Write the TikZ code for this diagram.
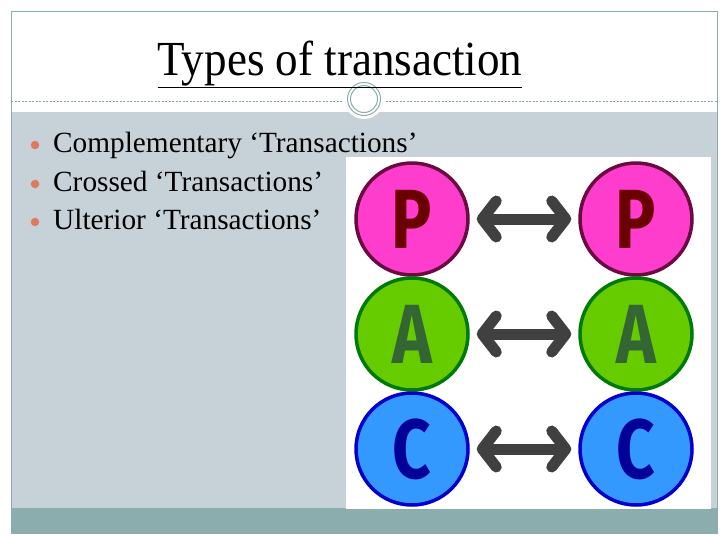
\documentclass[tikz,border=0pt]{standalone}
\usepackage{fontspec}
\setmainfont{Liberation Serif}
\newfontfamily\letterfont{Fira Sans}
\usetikzlibrary{arrows.meta}
\definecolor{bodygray}{HTML}{C6D2D8}
\definecolor{barteal}{HTML}{8CADAD}
\definecolor{dashcol}{HTML}{8AA5A8}
\definecolor{bulletcol}{HTML}{E07A5F}
\definecolor{pfill}{HTML}{FF3DCC}
\definecolor{pdraw}{HTML}{6B0A40}
\definecolor{ptext}{HTML}{6B0000}
\definecolor{afill}{HTML}{66CC00}
\definecolor{adraw}{HTML}{007A00}
\definecolor{atext}{HTML}{336633}
\definecolor{cfill}{HTML}{3399FF}
\definecolor{cdraw}{HTML}{0000CC}
\definecolor{ctext}{HTML}{000099}
\definecolor{arrowgray}{HTML}{404040}
\tikzset{
  circ/.style={circle, minimum size=112pt, inner sep=0pt, line width=3.5pt,
    font=\letterfont\bfseries\fontsize{84}{84}\selectfont},
  link/.style={draw=arrowgray, line width=11pt,
    {Straight Barb[round,length=14pt,width=36pt]}-{Straight Barb[round,length=14pt,width=36pt]},
    shorten <=7pt, shorten >=7pt},
  bullettext/.style={anchor=base west, inner sep=0pt, font=\fontsize{29.3}{35}\selectfont, text=black},
  bdot/.style={circle, fill=bulletcol, inner sep=0pt, minimum size=8.5pt},
}
\newcommand{\narrow}[1]{\scalebox{0.8}[1]{#1}}
\begin{document}
\begin{tikzpicture}[x=1pt,y=-1pt]
\useasboundingbox (0,0) rectangle (728,546);
\fill[white] (0,0) rectangle (728,546);
% body
\fill[bodygray] (11,112) rectangle (717,508);
\fill[barteal] (11,508) rectangle (717,533);
\draw[barteal, line width=1pt] (11,11) rectangle (717,533);
% dashed rule and ring
\draw[dashcol, line width=0.8pt, dash pattern=on 2pt off 1.5pt] (11,101) -- (717,101);
\fill[white] (364,99) circle (20);
\draw[barteal, line width=1pt] (364,99) circle (16.5);
\draw[barteal, line width=1pt] (364,99) circle (13.5);
% title
\node[anchor=base, inner sep=0pt, font=\fontsize{49}{50}\selectfont] (title) at (340,75)
  {\scalebox{0.92}[1]{\underline{Types of transaction}}};
% bullets
\node[bdot] (d1) at (35,145) {};
\node[bdot] (d2) at (35,184) {};
\node[bdot] (d3) at (35,222) {};
\node[bullettext] (t1) at (53,152) {Complementary ‘Transactions’};
\node[bullettext] (t2) at (53,191) {Crossed ‘Transactions’};
\node[bullettext] (t3) at (53,229) {Ulterior ‘Transactions’};
% picture panel
\fill[white] (346,157) rectangle (711,509);
\node[circ, fill=pfill, draw=pdraw, text=ptext] (p1) at (412,219) {\narrow{P}};
\node[circ, fill=pfill, draw=pdraw, text=ptext] (p2) at (636,219) {\narrow{P}};
\node[circ, fill=afill, draw=adraw, text=atext] (a1) at (412,334) {\narrow{A}};
\node[circ, fill=afill, draw=adraw, text=atext] (a2) at (636,334) {\narrow{A}};
\node[circ, fill=cfill, draw=cdraw, text=ctext] (c1) at (412,449) {\narrow{C}};
\node[circ, fill=cfill, draw=cdraw, text=ctext] (c2) at (636,449) {\narrow{C}};
\draw[link] (p1) -- (p2);
\draw[link] (a1) -- (a2);
\draw[link] (c1) -- (c2);
\end{tikzpicture}
\end{document}
